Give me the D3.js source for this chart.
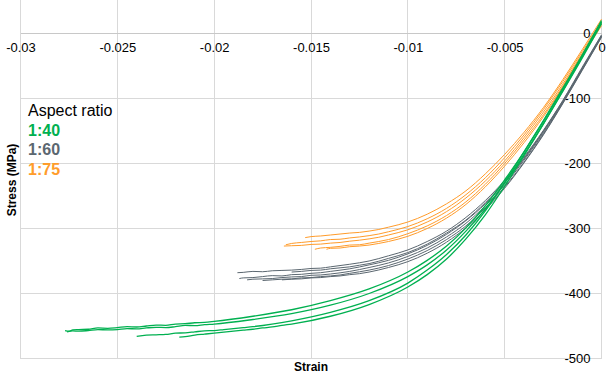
<!DOCTYPE html>
<html>
<head>
<meta charset="utf-8">
<script src="https://cdn.jsdelivr.net/npm/d3@7"></script>
<style>
  body { margin: 0; background: #fff; }
  svg { display: block; font-family: "Liberation Sans", Arial, sans-serif; }
</style>
</head>
<body>
<div id="stress-strain"></div>
<script>
// tick values
var strainTicks = [-0.03, -0.025, -0.02, -0.015, -0.01, -0.005, 0];
var stressTicks = [-500, -400, -300, -200, -100, 0];
var ratioLabels = ["1:40", "1:60", "1:75"];

// aspect ratio 1:40 specimens  [strain, stress MPa]
var ar40_a = [[0,17],[-0.001,-35],[-0.002,-86],[-0.003,-135],[-0.004,-182],[-0.005,-225],[-0.006,-265],[-0.007,-299],[-0.008,-327],[-0.009,-349],[-0.010,-367],[-0.012,-393],[-0.014,-411],[-0.016,-425],[-0.018,-435],[-0.020,-443],[-0.0205,-444.5],[-0.021,-445],[-0.0215,-446.5],[-0.022,-447],[-0.0225,-449],[-0.023,-448.5],[-0.0235,-450],[-0.024,-451.5],[-0.0245,-451],[-0.025,-452.5],[-0.0255,-453.5],[-0.026,-453],[-0.0265,-455],[-0.027,-455.5],[-0.0273,-456],[-0.0275,-458],[-0.0277,-457]];
var ar40_b = [[0,15],[-0.001,-38],[-0.002,-89],[-0.003,-139],[-0.004,-186],[-0.005,-230],[-0.006,-270],[-0.007,-304],[-0.008,-333],[-0.009,-356],[-0.010,-374],[-0.012,-400],[-0.014,-418],[-0.016,-431],[-0.018,-440],[-0.020,-447],[-0.0205,-448],[-0.021,-449.5],[-0.0215,-449],[-0.022,-451],[-0.0225,-452.5],[-0.023,-452],[-0.0235,-453],[-0.024,-454.5],[-0.0245,-454],[-0.025,-455.5],[-0.0255,-456],[-0.026,-455.5],[-0.0265,-457],[-0.027,-458],[-0.0273,-457.5],[-0.0276,-459]];
var ar40_c = [[0,20],[-0.001,-33],[-0.002,-84],[-0.003,-134],[-0.004,-182],[-0.005,-229],[-0.006,-273],[-0.007,-310],[-0.008,-340],[-0.009,-364],[-0.010,-384],[-0.012,-411],[-0.014,-429],[-0.016,-442],[-0.018,-451],[-0.0185,-452.5],[-0.019,-454],[-0.0195,-455.5],[-0.020,-457],[-0.0205,-457.5],[-0.021,-459],[-0.0215,-460.5],[-0.022,-461],[-0.0225,-463],[-0.023,-463.5],[-0.0235,-464],[-0.024,-466]];
var ar40_d = [[0,18],[-0.001,-36],[-0.002,-88],[-0.003,-139],[-0.004,-188],[-0.005,-235],[-0.006,-279],[-0.007,-316],[-0.008,-347],[-0.009,-371],[-0.010,-390],[-0.012,-417],[-0.014,-435],[-0.016,-447],[-0.0165,-449],[-0.017,-451.5],[-0.0175,-453],[-0.018,-455],[-0.0185,-456.5],[-0.019,-458],[-0.0195,-459.5],[-0.020,-461],[-0.0205,-462.5],[-0.021,-464],[-0.0215,-466.5],[-0.0218,-467]];

// aspect ratio 1:60 specimens
var ar60_a = [[0,-2],[-0.001,-52],[-0.002,-103],[-0.003,-149],[-0.004,-190],[-0.005,-226],[-0.006,-257],[-0.007,-283],[-0.008,-304],[-0.009,-320],[-0.010,-333],[-0.011,-342],[-0.012,-350],[-0.013,-355],[-0.014,-359],[-0.0145,-361],[-0.015,-361.5],[-0.0155,-363],[-0.016,-364],[-0.0165,-364.5],[-0.017,-365],[-0.0175,-366.5],[-0.018,-366],[-0.0185,-367.5],[-0.0188,-368]];
var ar60_b = [[0,-3],[-0.001,-54],[-0.002,-105],[-0.003,-151],[-0.004,-193],[-0.005,-230],[-0.006,-262],[-0.007,-288],[-0.008,-309],[-0.009,-326],[-0.010,-339],[-0.011,-349],[-0.012,-356],[-0.013,-362],[-0.014,-366],[-0.0145,-368],[-0.015,-369],[-0.0155,-370.5],[-0.016,-371],[-0.0165,-373],[-0.017,-372.5],[-0.0175,-374],[-0.018,-375.5],[-0.0185,-376],[-0.0187,-377]];
var ar60_c = [[0,-4],[-0.001,-55],[-0.002,-106],[-0.003,-153],[-0.004,-195],[-0.005,-233],[-0.006,-265],[-0.007,-292],[-0.008,-313],[-0.009,-330],[-0.010,-343],[-0.011,-353],[-0.012,-360],[-0.013,-366],[-0.014,-370],[-0.0145,-371.5],[-0.015,-372],[-0.0155,-374],[-0.016,-374.5],[-0.0165,-375.5],[-0.017,-377],[-0.0175,-377.5],[-0.018,-378],[-0.0183,-379]];
var ar60_d = [[0,-5],[-0.001,-56],[-0.002,-107],[-0.003,-155],[-0.004,-198],[-0.005,-236],[-0.006,-268],[-0.007,-296],[-0.008,-317],[-0.009,-334],[-0.010,-347],[-0.011,-357],[-0.012,-364],[-0.013,-369],[-0.0135,-371.5],[-0.014,-373],[-0.0145,-374],[-0.015,-375.5],[-0.0155,-376],[-0.016,-377.5],[-0.0165,-378],[-0.017,-379],[-0.0175,-380]];
var ar60_e = [[0,-6],[-0.001,-57],[-0.002,-108],[-0.003,-156],[-0.004,-199],[-0.005,-238],[-0.006,-271],[-0.007,-299],[-0.008,-321],[-0.009,-338],[-0.010,-351],[-0.011,-360],[-0.012,-367],[-0.0125,-369.5],[-0.013,-371],[-0.0135,-373],[-0.014,-374],[-0.0145,-375.5],[-0.015,-376],[-0.0155,-377.5],[-0.016,-378],[-0.0165,-379]];
var ar60_f = [[0,-4],[-0.001,-54],[-0.002,-104],[-0.003,-150],[-0.004,-192],[-0.005,-228],[-0.006,-260],[-0.007,-287],[-0.008,-307],[-0.009,-324],[-0.010,-337],[-0.011,-346],[-0.012,-354],[-0.0125,-356.5],[-0.013,-359],[-0.0135,-360.5],[-0.014,-362],[-0.0145,-364],[-0.015,-364.5],[-0.0155,-366],[-0.016,-367]];

// aspect ratio 1:75 specimens
var ar75_a = [[0,22],[-0.001,-25],[-0.002,-71],[-0.003,-114],[-0.004,-152],[-0.005,-186],[-0.006,-216],[-0.007,-242],[-0.008,-262],[-0.009,-278],[-0.010,-290],[-0.011,-298],[-0.0115,-301.5],[-0.012,-304],[-0.0125,-306],[-0.013,-307],[-0.0135,-308.5],[-0.014,-310],[-0.0145,-311.5],[-0.015,-312.5],[-0.0153,-314]];
var ar75_b = [[0,19],[-0.001,-28],[-0.002,-74],[-0.003,-117],[-0.004,-156],[-0.005,-191],[-0.006,-222],[-0.007,-248],[-0.008,-269],[-0.009,-285],[-0.010,-297],[-0.011,-305],[-0.0115,-308.5],[-0.012,-311],[-0.0125,-313],[-0.013,-314.5],[-0.0135,-316.5],[-0.014,-317],[-0.0145,-319],[-0.015,-320],[-0.0155,-321.5],[-0.016,-323],[-0.0163,-325]];
var ar75_c = [[0,16],[-0.001,-31],[-0.002,-78],[-0.003,-121],[-0.004,-160],[-0.005,-196],[-0.006,-227],[-0.007,-253],[-0.008,-274],[-0.009,-290],[-0.010,-302],[-0.011,-310],[-0.0115,-313.5],[-0.012,-316],[-0.0125,-318],[-0.013,-319.5],[-0.0135,-321.5],[-0.014,-322.5],[-0.0145,-324],[-0.015,-324.5],[-0.0155,-326],[-0.016,-326.5],[-0.0164,-327]];
var ar75_d = [[0,14],[-0.001,-33],[-0.002,-81],[-0.003,-125],[-0.004,-164],[-0.005,-200],[-0.006,-232],[-0.007,-259],[-0.008,-280],[-0.009,-296],[-0.010,-308],[-0.011,-317],[-0.0115,-320],[-0.012,-322.5],[-0.0125,-325],[-0.013,-325.5],[-0.0135,-327.5],[-0.014,-329],[-0.0145,-330],[-0.0148,-332]];
var ar75_e = [[0,12],[-0.001,-35],[-0.002,-83],[-0.003,-128],[-0.004,-168],[-0.005,-204],[-0.006,-236],[-0.007,-263],[-0.008,-284],[-0.009,-300],[-0.010,-312],[-0.011,-320],[-0.0115,-323],[-0.012,-325.5],[-0.0125,-327],[-0.013,-328],[-0.0135,-330],[-0.014,-330.5],[-0.0142,-332]];

var curves40 = [ar40_a, ar40_b, ar40_c, ar40_d];
var curves60 = [ar60_a, ar60_b, ar60_c, ar60_d, ar60_e, ar60_f];
var curves75 = [ar75_a, ar75_b, ar75_c, ar75_d, ar75_e];

var colors = { "1:40": "#00b050", "1:60": "#5b6770", "1:75": "#ff9c2b" };

var width = 606, height = 373;

var svg = d3.select("#stress-strain").append("svg")
    .attr("width", width)
    .attr("height", height);

svg.append("rect").attr("width", width).attr("height", height).attr("fill", "#fff");

var x = d3.scaleLinear().domain([-0.03, 0]).range([20.5, 601.5]);
var y = d3.scaleLinear().domain([-500, 50]).range([358.5, 1]);

// grid
var grid = svg.append("g").attr("class", "grid").attr("shape-rendering", "crispEdges");
grid.selectAll(".vline")
    .data(strainTicks)
    .enter().append("line")
    .attr("x1", function (d) { return x(d); })
    .attr("x2", function (d) { return x(d); })
    .attr("y1", y(50) - 1)
    .attr("y2", y(-500))
    .attr("stroke", "#d9d9d9");
grid.selectAll(".hline")
    .data(stressTicks)
    .enter().append("line")
    .attr("x1", x(-0.03))
    .attr("x2", x(0))
    .attr("y1", function (d) { return y(d); })
    .attr("y2", function (d) { return y(d); })
    .attr("stroke", function (d) { return d === 0 ? "#c8c8c8" : "#d9d9d9"; });

// plain hyphen minus like the original, not the unicode minus
function plain(d) { return String(d); }

// x axis crosses at stress 0, labels underneath
var xAxis = d3.axisBottom(x)
    .tickValues(strainTicks)
    .tickSize(0)
    .tickPadding(9)
    .tickFormat(plain);

svg.append("g")
    .attr("transform", "translate(0," + y(0) + ")")
    .call(xAxis)
    .call(function (g) { g.select(".domain").remove(); })
    .selectAll("text")
    .attr("font-size", "13px")
    .attr("font-family", "Liberation Sans, Arial, sans-serif")
    .attr("fill", "#000");

// y axis at strain 0, labels left of it
var yAxis = d3.axisLeft(y)
    .tickValues(stressTicks)
    .tickSize(0)
    .tickPadding(11)
    .tickFormat(plain);

svg.append("g")
    .attr("transform", "translate(" + x(0) + ",0)")
    .call(yAxis)
    .call(function (g) { g.select(".domain").remove(); })
    .selectAll("text")
    .attr("font-size", "13px")
    .attr("font-family", "Liberation Sans, Arial, sans-serif")
    .attr("fill", "#000");

// curves
var line = d3.line()
    .x(function (d) { return x(d[0]); })
    .y(function (d) { return y(d[1]); })
    .curve(d3.curveMonotoneX);

function drawGroup(curves, key, w) {
    svg.append("g")
        .selectAll("path")
        .data(curves)
        .enter().append("path")
        .attr("d", function (d) {
            return line(d.slice().sort(function (a, b) { return a[0] - b[0]; }));
        })
        .attr("fill", "none")
        .attr("stroke", colors[key])
        .attr("stroke-width", w);
}
drawGroup(curves75, "1:75", 1);
drawGroup(curves60, "1:60", 1);
drawGroup(curves40, "1:40", 1.3);

// axis titles
svg.append("text")
    .attr("transform", "translate(16," + 180 + ") rotate(-90)")
    .attr("text-anchor", "middle")
    .attr("font-size", "12px")
    .attr("font-weight", "bold")
    .text("Stress (MPa)");

svg.append("text")
    .attr("x", (x(-0.03) + x(0)) / 2)
    .attr("y", 371)
    .attr("text-anchor", "middle")
    .attr("font-size", "12px")
    .attr("font-weight", "bold")
    .text("Strain");

// legend
var legend = svg.append("g").attr("transform", "translate(28,116)");
legend.append("text")
    .attr("font-size", "16px")
    .attr("fill", "#000")
    .text("Aspect ratio");
legend.selectAll(".item")
    .data(ratioLabels)
    .enter().append("text")
    .attr("y", function (d, i) { return 19.5 * (i + 1); })
    .attr("font-size", "16px")
    .attr("font-weight", "bold")
    .attr("fill", function (d) { return colors[d]; })
    .text(function (d) { return d; });
</script>
</body>
</html>
